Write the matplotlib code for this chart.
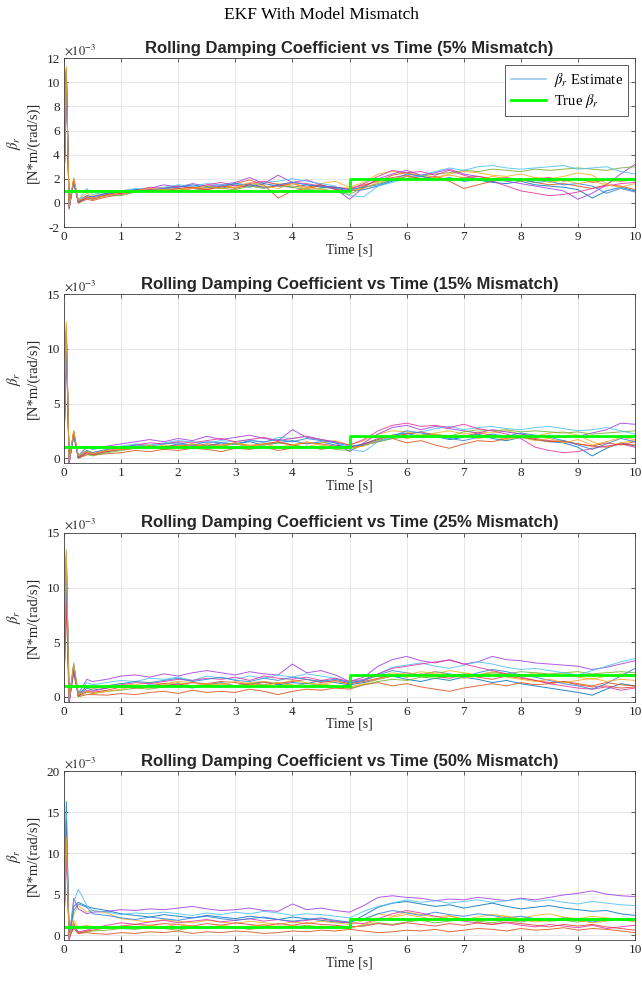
import numpy as np
import matplotlib.pyplot as plt
from matplotlib.lines import Line2D

plt.rcParams['font.family'] = ['Liberation Serif', 'DejaVu Serif']
plt.rcParams['mathtext.fontset'] = 'stix'
plt.rcParams['axes.unicode_minus'] = False

# sample times: dense over the start-up transient, then every 0.25 s
t_head = [0.0, 0.04, 0.09, 0.17, 0.25, 0.4]
t = np.concatenate([t_head, np.arange(0.5, 10.001, 0.25)])

run_colors = ['#0072BD', '#D95319', '#EDB120', '#A23BE0', '#77AC30',
              '#4DBEEE', '#E2339E', '#E0403A', '#2F7FD9', '#F5A623']

mismatch = ['5%', '15%', '25%', '50%']
t_switch = 5.0
true_before = 1.0
true_after = 2.0

# beta_r estimates, units of 1e-3 N*m/(rad/s), one row per run
est_05 = [
    [1.0, 10.8, -0.3, 1.8, 0.1, 0.5, 0.4, 0.7, 0.9, 1.0, 1.1, 1.2, 1.4, 1.3, 1.4, 1.2, 1.5, 1.3, 1.6, 1.4, 1.3, 1.5, 1.3, 1.2, 1.0,
     1.1, 1.4, 1.8, 2.2, 2.0, 1.9, 2.1, 1.8, 1.9, 1.7, 1.6, 1.8, 1.5, 1.4, 1.3, 1.1, 0.4, 1.0, 1.3, 1.0],
    [1.0, 11.0, -0.5, 2.0, 0.0, 0.3, 0.2, 0.5, 0.7, 0.9, 1.0, 1.1, 1.0, 1.2, 1.1, 1.3, 1.6, 1.9, 1.5, 0.4, 1.0, 1.2, 1.4, 1.3, 1.2,
     1.5, 1.8, 2.3, 2.5, 2.2, 2.0, 1.8, 1.2, 1.5, 1.8, 2.0, 1.9, 1.7, 1.5, 1.6, 1.4, 1.2, 1.5, 1.4, 1.1],
    [1.0, 11.3, -0.2, 2.1, 0.3, 0.8, 0.6, 0.8, 1.0, 1.1, 1.0, 1.2, 1.1, 1.3, 1.2, 1.4, 1.3, 1.5, 1.7, 1.6, 1.4, 1.2, 1.6, 1.8, 1.3,
     1.7, 2.4, 2.6, 2.5, 2.3, 2.1, 2.4, 2.6, 2.5, 2.3, 2.2, 2.4, 2.1, 2.0, 2.2, 2.5, 2.3, 1.6, 2.0, 1.8],
    [1.0, 10.6, -0.4, 1.9, 0.2, 0.6, 0.5, 0.8, 0.8, 1.1, 1.2, 1.5, 1.3, 1.6, 1.4, 1.5, 1.7, 2.1, 1.6, 2.3, 1.7, 1.9, 1.5, 1.2, 0.3,
     1.3, 2.0, 2.4, 2.7, 2.3, 2.5, 2.8, 2.4, 2.2, 2.0, 1.8, 1.6, 1.4, 1.2, 1.0, 0.3, 0.8, 1.5, 2.4, 3.2],
    [1.0, 11.1, -0.3, 1.7, 0.0, 0.4, 0.3, 0.6, 0.6, 0.9, 1.0, 1.1, 1.2, 1.0, 1.3, 1.2, 1.1, 1.4, 1.2, 1.5, 1.3, 1.1, 1.2, 0.9, 0.7,
     1.3, 1.6, 1.9, 2.0, 2.2, 2.4, 2.5, 2.7, 2.6, 2.8, 2.7, 2.6, 2.8, 2.7, 2.8, 2.9, 2.8, 2.7, 2.9, 3.0],
    [1.0, 10.9, -0.1, 1.6, 0.2, 1.2, 0.7, 0.9, 1.0, 1.2, 1.1, 1.3, 1.5, 1.4, 1.6, 1.5, 1.6, 1.4, 1.7, 1.8, 2.0, 1.8, 1.6, 1.4, 0.6,
     0.5, 1.4, 1.7, 2.0, 2.3, 2.6, 2.9, 2.7, 3.0, 3.1, 2.9, 2.8, 2.9, 3.0, 3.1, 2.8, 2.9, 3.0, 2.6, 2.4],
    [1.0, 10.7, -0.5, 1.8, 0.1, 0.4, 0.4, 0.6, 0.8, 1.0, 1.3, 1.2, 1.4, 1.2, 1.5, 1.7, 1.4, 1.6, 1.8, 1.5, 1.7, 1.6, 1.4, 1.3, 1.1,
     1.6, 2.2, 2.7, 2.5, 2.6, 2.3, 2.7, 2.3, 2.0, 1.8, 1.4, 1.0, 0.8, 0.6, 0.7, 0.9, 1.2, 1.4, 1.6, 1.7],
    [1.0, 11.0, -0.2, 1.9, 0.0, 0.5, 0.3, 0.7, 0.8, 1.0, 1.1, 1.0, 1.2, 1.3, 1.1, 1.4, 1.2, 1.5, 1.3, 1.4, 1.6, 1.3, 1.5, 1.1, 1.0,
     1.4, 1.9, 2.1, 2.3, 2.0, 2.2, 1.9, 2.1, 2.2, 2.0, 2.1, 1.9, 2.0, 2.1, 1.8, 2.0, 1.7, 1.9, 1.8, 1.9],
    [1.0, 10.9, -0.4, 1.7, 0.1, 0.6, 0.5, 0.8, 0.9, 1.1, 1.0, 1.2, 1.3, 1.5, 1.3, 1.4, 1.6, 1.5, 1.3, 1.5, 1.7, 1.5, 1.4, 1.3, 1.1,
     1.3, 1.5, 1.9, 2.4, 2.2, 2.0, 1.9, 2.1, 2.0, 1.8, 1.9, 2.0, 1.7, 1.8, 1.5, 1.6, 1.4, 0.8, 1.2, 0.9],
    [1.0, 11.2, -0.3, 2.0, 0.2, 0.5, 0.4, 0.6, 0.9, 1.0, 1.2, 1.1, 1.0, 1.2, 1.4, 1.2, 1.3, 1.7, 1.4, 1.2, 1.6, 1.3, 1.1, 0.9, 1.0,
     1.2, 1.7, 2.0, 2.2, 1.9, 2.1, 2.3, 2.1, 1.9, 2.2, 2.0, 1.8, 2.1, 1.7, 1.9, 1.6, 1.8, 1.5, 1.3, 1.6],
]

est_15 = [
    [1.0, 11.5, -0.4, 2.3, 0.1, 0.6, 0.4, 0.6, 0.8, 1.0, 1.1, 1.0, 1.3, 1.2, 1.1, 1.4, 1.3, 1.5, 1.2, 1.4, 1.6, 1.3, 1.5, 1.2, 1.0,
     1.3, 1.7, 2.1, 2.3, 1.9, 2.0, 1.7, 1.9, 2.2, 1.8, 1.6, 1.9, 1.7, 1.5, 1.4, 1.0, 0.2, 0.9, 1.4, 1.1],
    [1.0, 12.0, -0.5, 2.5, 0.0, 0.3, 0.3, 0.4, 0.5, 0.7, 0.6, 0.8, 0.7, 0.9, 0.8, 0.6, 0.9, 0.8, 1.0, 0.7, 0.9, 1.1, 0.8, 1.0, 0.9,
     1.2, 1.5, 1.8, 1.4, 1.6, 1.2, 0.9, 1.3, 1.6, 1.5, 1.8, 2.0, 1.7, 1.5, 1.6, 1.3, 1.1, 1.0, 1.3, 1.2],
    [1.0, 12.5, -0.2, 2.4, 0.3, 0.7, 0.5, 0.8, 1.0, 1.1, 0.9, 1.2, 1.0, 1.3, 1.1, 1.0, 1.4, 1.2, 1.3, 1.5, 1.2, 1.0, 1.4, 1.6, 1.2,
     1.6, 2.2, 2.5, 2.4, 2.1, 2.3, 2.5, 2.2, 2.4, 2.3, 2.5, 2.2, 2.0, 2.3, 2.4, 2.1, 1.5, 1.0, 1.4, 1.6],
    [1.0, 11.0, -0.4, 2.2, 0.2, 1.0, 0.8, 1.1, 1.3, 1.5, 1.7, 1.5, 1.8, 1.6, 2.0, 1.7, 1.9, 2.1, 1.8, 1.6, 2.6, 1.9, 1.7, 1.4, 0.6,
     1.4, 2.2, 2.8, 3.0, 2.6, 2.9, 2.7, 2.5, 2.3, 2.6, 2.4, 2.2, 2.0, 2.1, 1.9, 2.0, 2.3, 2.6, 3.2, 3.1],
    [1.0, 11.8, -0.3, 2.0, 0.0, 0.4, 0.2, 0.5, 0.7, 0.9, 1.0, 0.8, 1.1, 1.0, 1.2, 1.1, 1.3, 1.0, 1.2, 1.4, 1.2, 1.0, 1.1, 0.8, 0.7,
     1.2, 1.5, 1.8, 1.9, 2.1, 2.2, 2.0, 2.4, 2.6, 2.5, 2.6, 2.4, 2.5, 2.4, 2.3, 2.4, 2.2, 2.3, 2.4, 2.5],
    [1.0, 11.2, -0.1, 2.1, 0.2, 1.1, 0.8, 1.0, 1.1, 1.3, 1.2, 1.4, 1.6, 1.5, 1.4, 1.6, 1.5, 1.7, 1.4, 1.9, 1.8, 2.0, 1.7, 1.5, 0.8,
     0.6, 1.5, 1.9, 2.2, 2.4, 2.7, 2.9, 2.6, 2.8, 2.9, 2.7, 2.6, 2.8, 2.9, 2.7, 2.5, 2.6, 2.8, 2.5, 2.2],
    [1.0, 10.2, -0.5, 2.2, 0.1, 0.5, 0.4, 0.7, 0.9, 1.2, 1.4, 1.3, 1.5, 1.4, 1.6, 1.8, 1.5, 1.7, 1.9, 1.6, 1.8, 2.0, 1.7, 1.5, 1.2,
     1.7, 2.5, 3.0, 3.2, 2.9, 3.0, 2.8, 3.1, 2.7, 2.5, 2.2, 1.8, 1.0, 0.7, 0.5, 0.6, 0.9, 1.1, 1.3, 1.0],
    [1.0, 11.6, -0.2, 2.4, 0.0, 0.5, 0.3, 0.6, 0.8, 0.9, 1.1, 1.0, 1.2, 1.1, 1.3, 1.2, 1.4, 1.1, 1.3, 1.5, 1.2, 1.4, 1.3, 1.1, 1.0,
     1.3, 1.8, 2.0, 2.2, 2.4, 2.1, 1.9, 2.0, 2.3, 2.1, 1.9, 2.0, 1.8, 1.6, 1.5, 1.3, 1.1, 1.4, 1.2, 1.5],
    [1.0, 10.8, -0.4, 2.1, 0.1, 0.7, 0.5, 0.8, 1.0, 1.2, 1.1, 1.3, 1.4, 1.2, 1.5, 1.4, 1.3, 1.6, 1.5, 1.7, 1.5, 1.8, 1.6, 1.4, 1.1,
     1.2, 1.6, 2.0, 2.5, 2.3, 2.1, 1.8, 1.6, 1.9, 2.2, 2.0, 2.3, 2.1, 1.9, 1.6, 1.2, 0.8, 1.3, 1.8, 1.5],
    [1.0, 12.2, -0.3, 2.5, 0.2, 0.6, 0.4, 0.7, 0.8, 1.0, 1.2, 0.9, 1.1, 1.3, 1.0, 1.2, 1.4, 1.1, 1.3, 1.0, 1.2, 1.5, 1.2, 1.0, 0.9,
     1.1, 1.6, 2.1, 1.8, 2.0, 2.2, 1.9, 2.1, 1.8, 2.0, 1.7, 1.9, 1.6, 1.8, 1.4, 1.7, 1.2, 1.5, 1.9, 1.7],
]

est_25 = [
    [1.0, 13.0, -0.5, 2.6, 0.1, 0.8, 0.6, 0.8, 1.0, 0.9, 1.1, 1.0, 1.2, 0.9, 1.1, 1.3, 1.0, 1.2, 1.4, 1.1, 1.3, 1.2, 1.5, 1.3, 1.1,
     1.3, 1.6, 1.9, 1.6, 1.4, 1.7, 1.5, 1.8, 1.6, 1.3, 1.5, 1.2, 1.0, 0.8, 0.6, 0.4, 0.15, 0.7, 1.2, 1.0],
    [1.0, 12.5, -0.4, 3.0, 0.0, 0.2, 0.2, 0.15, 0.3, 0.2, 0.4, 0.5, 0.3, 0.6, 0.4, 0.5, 0.4, 0.7, 0.5, 0.2, 0.5, 0.7, 0.6, 0.8, 0.7,
     1.1, 1.3, 1.0, 1.2, 0.9, 0.7, 0.5, 0.8, 1.0, 1.2, 1.0, 1.3, 1.1, 1.2, 1.4, 1.2, 1.0, 1.3, 1.1, 1.0],
    [1.0, 13.5, -0.3, 2.9, 0.3, 0.9, 0.7, 1.0, 1.2, 1.1, 1.3, 1.2, 1.4, 1.3, 1.1, 1.2, 1.0, 1.3, 1.4, 1.2, 1.5, 1.3, 1.1, 1.4, 1.2,
     1.5, 1.9, 2.2, 2.0, 2.3, 2.1, 2.4, 2.2, 2.0, 2.3, 2.1, 1.9, 2.2, 2.0, 2.1, 1.8, 1.6, 1.9, 2.1, 2.0],
    [1.0, 11.0, -0.5, 2.4, 0.3, 1.6, 1.4, 1.6, 1.9, 2.0, 1.8, 2.1, 1.9, 2.2, 2.4, 2.2, 2.0, 2.3, 2.1, 2.0, 3.0, 2.2, 2.4, 2.0, 1.4,
     1.8, 2.8, 3.4, 3.7, 3.3, 3.1, 3.4, 3.0, 3.2, 3.7, 3.4, 3.3, 3.1, 3.0, 2.9, 2.8, 2.5, 2.7, 3.0, 3.3],
    [1.0, 12.8, -0.3, 2.2, 0.0, 0.4, 0.3, 0.5, 0.6, 0.8, 0.7, 0.9, 1.0, 0.8, 1.1, 0.9, 1.0, 1.2, 1.1, 1.3, 1.0, 1.2, 1.1, 0.9, 0.8,
     1.1, 1.4, 1.6, 1.5, 1.8, 1.7, 1.9, 2.1, 2.0, 2.2, 2.1, 2.3, 2.2, 2.1, 2.2, 2.3, 2.1, 2.2, 2.3, 2.2],
    [1.0, 13.3, -0.1, 3.1, 0.4, 1.3, 1.1, 1.3, 1.5, 1.4, 1.7, 1.6, 1.8, 1.5, 1.9, 1.7, 1.6, 1.9, 1.7, 2.0, 1.8, 2.1, 1.9, 1.7, 1.3,
     1.5, 2.1, 2.7, 2.9, 3.1, 2.8, 2.6, 2.9, 3.2, 3.0, 2.7, 2.5, 2.6, 2.4, 2.2, 2.0, 2.4, 2.8, 3.2, 3.5],
    [1.0, 9.0, -0.5, 2.3, 0.1, 0.6, 0.5, 0.8, 1.1, 1.3, 1.2, 1.4, 1.6, 1.5, 1.7, 1.6, 1.8, 1.5, 1.9, 1.7, 1.6, 1.8, 1.5, 1.7, 1.4,
     1.6, 2.1, 2.6, 2.8, 3.0, 3.2, 3.35, 3.0, 2.7, 2.4, 2.1, 1.8, 1.5, 1.2, 1.0, 0.8, 0.7, 0.9, 0.6, 0.8],
    [1.0, 8.5, -0.2, 2.7, 0.1, 0.5, 0.4, 0.6, 0.9, 0.8, 1.0, 1.2, 1.1, 1.3, 1.2, 1.4, 1.3, 1.1, 1.3, 1.2, 1.4, 1.6, 1.3, 1.5, 1.2,
     1.4, 1.7, 2.0, 1.8, 2.1, 1.9, 1.7, 2.0, 1.8, 1.6, 1.9, 1.7, 1.5, 1.3, 1.4, 1.1, 0.9, 1.0, 0.8, 0.9],
    [1.0, 12.0, -0.4, 2.8, 0.2, 1.0, 0.8, 1.0, 1.2, 1.4, 1.3, 1.5, 1.7, 1.4, 1.6, 1.8, 1.5, 1.4, 1.7, 1.5, 1.8, 1.6, 1.4, 1.6, 1.3,
     1.5, 2.0, 2.4, 2.2, 2.0, 2.3, 2.1, 1.8, 2.2, 2.5, 2.3, 2.0, 1.8, 1.5, 1.2, 1.0, 0.7, 1.2, 1.9, 2.6],
    [1.0, 13.2, -0.3, 3.0, 0.2, 0.5, 0.3, 0.5, 0.7, 1.0, 0.8, 1.1, 1.3, 1.0, 1.2, 1.1, 1.4, 1.2, 1.0, 1.3, 1.1, 0.9, 1.2, 1.0, 0.9,
     1.2, 1.6, 1.9, 2.2, 2.0, 2.3, 2.0, 1.7, 1.9, 2.1, 1.8, 1.6, 1.4, 1.6, 1.3, 1.5, 1.7, 1.4, 1.6, 1.5],
]

est_50 = [
    [1.0, 16.3, -0.5, 3.5, 4.0, 3.5, 3.3, 3.0, 2.6, 2.4, 2.2, 2.5, 2.3, 2.1, 2.4, 2.2, 2.0, 2.3, 2.1, 1.9, 2.2, 2.0, 1.8, 1.6, 1.5,
     2.4, 3.4, 3.9, 4.1, 3.8, 3.5, 3.7, 3.3, 3.6, 3.9, 3.5, 3.2, 3.4, 3.6, 3.3, 3.1, 2.9, 3.0, 2.6, 2.4],
    [1.0, 13.5, -0.4, 1.5, 0.2, 0.3, 0.2, 0.1, 0.3, 0.2, 0.4, 0.3, 0.5, 0.2, 0.4, 0.3, 0.5, 0.4, 0.2, 0.3, 0.5, 0.4, 0.6, 0.5, 0.7,
     0.5, 0.3, 0.4, 0.6, 0.5, 0.7, 0.4, 0.6, 0.8, 0.7, 0.5, 0.8, 0.6, 0.7, 0.9, 0.6, 0.8, 0.7, 0.5, 0.3],
    [1.0, 13.0, -0.3, 2.5, 3.6, 2.8, 3.0, 2.7, 2.0, 1.8, 1.6, 1.9, 1.7, 1.5, 1.8, 1.6, 1.4, 1.7, 1.5, 1.3, 1.6, 1.4, 1.7, 1.5, 1.3,
     1.8, 2.6, 2.3, 2.8, 2.5, 2.2, 2.4, 1.9, 2.2, 2.5, 2.3, 2.0, 2.4, 2.6, 2.2, 2.0, 2.3, 2.1, 1.9, 1.8],
    [1.0, 11.0, -0.5, 4.5, 3.2, 2.6, 2.8, 2.9, 3.1, 3.0, 3.2, 3.1, 3.3, 3.5, 3.2, 3.0, 3.1, 3.3, 3.0, 2.9, 3.8, 3.1, 3.3, 3.0, 2.8,
     3.6, 4.6, 4.8, 4.6, 4.5, 4.2, 4.4, 4.3, 4.6, 4.4, 4.2, 4.5, 4.3, 4.6, 4.9, 5.1, 5.4, 5.0, 4.8, 4.7],
    [1.0, 12.5, -0.3, 1.0, 0.3, 0.4, 0.5, 0.6, 0.8, 0.7, 0.9, 0.8, 0.6, 0.9, 0.8, 1.0, 0.9, 0.7, 0.9, 1.1, 1.0, 1.2, 1.0, 1.1, 0.9,
     1.2, 1.5, 1.3, 1.6, 1.8, 1.5, 1.7, 1.9, 1.7, 1.5, 1.8, 1.6, 1.9, 1.7, 1.8, 1.6, 1.9, 2.0, 1.8, 1.9],
    [1.0, 15.0, -0.2, 4.0, 5.6, 3.6, 3.0, 2.8, 2.5, 2.7, 2.6, 2.8, 2.6, 2.4, 2.7, 2.5, 2.8, 2.6, 2.9, 2.7, 2.4, 2.6, 2.5, 2.3, 2.1,
     2.9, 3.5, 3.9, 4.3, 4.0, 4.2, 3.9, 4.1, 4.3, 4.0, 4.2, 4.4, 4.1, 4.3, 4.0, 3.8, 4.1, 3.9, 3.7, 3.6],
    [1.0, 10.5, -0.5, 1.2, 0.4, 0.6, 0.8, 1.2, 1.5, 1.3, 1.6, 1.8, 1.5, 1.7, 1.9, 1.6, 1.8, 2.0, 1.7, 1.9, 1.6, 1.8, 2.0, 1.7, 1.5,
     1.4, 2.0, 2.6, 3.0, 2.7, 2.3, 2.0, 1.7, 1.5, 1.3, 1.5, 1.2, 1.0, 1.3, 1.1, 0.9, 1.2, 0.8, 1.0, 1.2],
    [1.0, 11.5, -0.2, 0.8, 0.2, 0.5, 0.6, 0.9, 1.1, 1.3, 1.2, 1.4, 1.3, 1.1, 1.4, 1.2, 1.5, 1.3, 1.1, 1.4, 1.2, 1.5, 1.3, 1.2, 1.0,
     1.1, 1.4, 1.2, 1.5, 1.3, 1.1, 1.4, 1.2, 1.5, 1.3, 1.6, 1.4, 1.2, 1.0, 1.3, 1.1, 1.3, 1.0, 0.8, 0.6],
    [1.0, 14.0, -0.4, 3.0, 3.8, 3.4, 2.6, 2.4, 2.1, 1.9, 2.2, 2.0, 1.8, 2.1, 2.3, 2.0, 1.8, 2.0, 2.2, 1.9, 1.7, 1.9, 2.1, 1.8, 1.6,
     2.0, 2.6, 3.0, 2.7, 2.4, 2.8, 2.5, 2.3, 2.6, 2.4, 2.1, 2.3, 2.0, 1.8, 2.1, 1.9, 1.6, 1.8, 2.0, 1.9],
    [1.0, 12.0, -0.3, 1.8, 1.0, 1.2, 1.0, 0.8, 1.1, 0.9, 1.2, 1.0, 1.3, 1.1, 0.9, 1.2, 1.0, 1.1, 1.3, 1.0, 1.2, 0.9, 1.1, 1.0, 0.8,
     1.3, 1.8, 2.2, 2.5, 2.2, 1.9, 2.3, 2.0, 1.7, 2.0, 2.3, 1.9, 1.6, 1.8, 2.1, 1.8, 1.5, 1.7, 2.0, 1.6],
]

estimates = [est_05, est_15, est_25, est_50]
ylims = [(-2, 12), (-0.45, 15), (-0.45, 15), (-0.6, 20)]
yticks = [np.arange(-2, 13, 2), [0, 5, 10, 15], [0, 5, 10, 15], [0, 5, 10, 15, 20]]
bottoms = [0.7686, 0.528, 0.2847, 0.0418]

fig = plt.figure(figsize=(6.42, 9.81), dpi=100)
fig.text(0.5, 1 - 15 / 981, 'EKF With Model Mismatch', ha='center', va='center', fontsize=12.5)

for k in range(4):
    ax = fig.add_axes([0.0997, bottoms[k], 0.8894, 0.172])
    for run, c in zip(estimates[k], run_colors):
        ax.plot(t, run, color=c, lw=0.7, alpha=0.85)
    ax.plot([0, t_switch, t_switch, 10], [true_before, true_before, true_after, true_after],
            color='#00FF00', lw=2)

    ax.set_xlim(0, 10)
    ax.set_ylim(*ylims[k])
    ax.set_xticks(range(11))
    ax.set_yticks(yticks[k])
    ax.grid(True, color='#e3e3e3', lw=0.6)
    ax.set_axisbelow(True)
    ax.tick_params(direction='in', length=3, width=0.5, labelsize=9.5, colors='#262626',
                   top=True, right=True, pad=3)
    for s in ax.spines.values():
        s.set_color('#404040')
        s.set_linewidth(0.6)

    ax.set_title(f'Rolling Damping Coefficient vs Time ({mismatch[k]} Mismatch)',
                 family='Liberation Sans', fontweight='bold', fontsize=12, color='#262626', pad=4)
    ax.text(0.0, 1.005, r'$\times10^{-3}$', transform=ax.transAxes, ha='left', va='bottom',
            fontsize=9, color='#262626')
    ax.set_xlabel('Time [s]', fontsize=10, color='#262626', labelpad=0)
    ax.set_ylabel('$\\beta_r$\n[N*m/(rad/s)]', fontsize=10.5, color='#262626', linespacing=1.25)
    ax.yaxis.set_label_coords(-0.043, 0.5)

    if k == 0:
        handles = [Line2D([], [], color='#9CC6E8', lw=1.2),
                   Line2D([], [], color='#00FF00', lw=2)]
        leg = ax.legend(handles, [r'$\beta_r$ Estimate', r'True $\beta_r$'], loc='upper right',
                        fontsize=10.5, handlelength=2.4, fancybox=False, framealpha=1,
                        borderaxespad=0.45, labelspacing=0.25, handletextpad=0.5)
        leg.get_frame().set_edgecolor('#404040')
        leg.get_frame().set_linewidth(0.6)

fig.savefig('out.png', dpi=100)
